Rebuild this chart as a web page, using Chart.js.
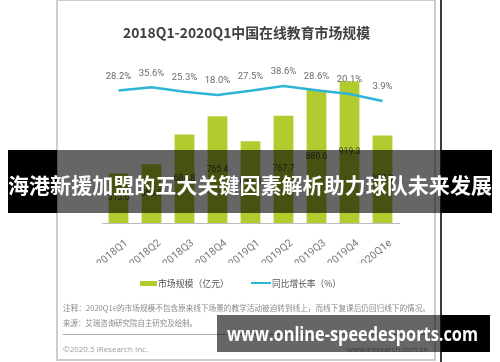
<!DOCTYPE html>
<html>
<head>
<meta charset="utf-8">
<script src="https://cdn.jsdelivr.net/npm/chart.js@4.4.1/dist/chart.umd.min.js"></script>
<style>
  html, body { margin:0; padding:0; background:#fff; }
  body { width:500px; height:362px; position:relative; overflow:hidden; font-family:"Noto Sans CJK SC","Noto Sans",sans-serif; }
  .abs { position:absolute; white-space:nowrap; }
  #card { position:absolute; left:56px; top:-1px; width:376px; height:358px; border:2px solid #cdcdcd; background:#fff; }
  #vline { position:absolute; left:440px; top:0; width:2px; height:362px; background:#3a3a3a; }
  #chart { position:absolute; left:0; top:0; }
  .fit { display:inline-block; transform-origin:0 50%; }
</style>
</head>
<body>
<div id="card"></div>
<div id="vline"></div>
<canvas id="chart" width="500" height="362"></canvas>

<div class="abs" id="title" style="left:123px; top:23px; font-size:14px; font-weight:bold; color:#404040; line-height:18px;"><span class="fit" data-w="247">2018Q1-2020Q1中国在线教育市场规模</span></div>

<div class="abs" style="left:140px; top:281px; width:17px; height:5px; background:#b4cb2f;"></div>
<div class="abs" style="left:158px; top:277px; font-size:9.5px; color:#555; line-height:13px;"><span class="fit" data-w="71">市场规模（亿元）</span></div>
<div class="abs" style="left:251px; top:282px; width:20px; height:2px; background:#2db5d8;"></div>
<div class="abs" style="left:272px; top:277px; font-size:9.5px; color:#555; line-height:13px;"><span class="fit" data-w="69">同比增长率（%）</span></div>

<div class="abs" style="left:63px; top:302px; font-size:7.5px; color:#8a8a8a; line-height:11px;"><span class="fit" data-w="367">注释：2020Q1e的市场规模不包含原来线下场景的教学活动被迫转到线上，而线下复课后仍回归线下的情况。</span></div>
<div class="abs" style="left:63px; top:317px; font-size:7.5px; color:#8a8a8a; line-height:11px;"><span class="fit" data-w="134">来源：艾瑞咨询研究院自主研究及绘制。</span></div>
<div class="abs" style="left:63px; top:334px; width:367px; height:1px; background:#a8a8a8;"></div>
<div class="abs" style="left:63px; top:343px; font-size:8px; color:#999; line-height:11px; font-family:'Open Sans',sans-serif;"><span class="fit" data-w="85">©2020.5 iResearch Inc.</span></div>
<div class="abs" style="left:347px; top:343px; font-size:8px; color:#999; line-height:11px; font-family:'Open Sans',sans-serif;"><span class="fit" data-w="81">www.iresearch.com.cn</span></div>

<!-- overlay banner -->
<div class="abs" style="left:8px; top:150px; width:49px; height:63px; background:#000;"></div>
<div class="abs" style="left:57px; top:150px; width:384px; height:63px; background:rgba(0,0,0,0.6);"></div>
<div class="abs" style="left:441px; top:150px; width:51px; height:63px; background:#000;"></div>
<div class="abs" style="left:8px; top:171px; font-size:21px; font-weight:bold; color:#fff; line-height:26px;"><span class="fit" data-w="484">海港新援加盟的五大关键因素解析助力球队未来发展</span></div>

<!-- watermark -->
<div class="abs" style="left:217px; top:315px; width:224px; height:37px; background:rgba(0,0,0,0.6);"></div>
<div class="abs" style="left:441px; top:315px; width:49px; height:37px; background:#000;"></div>
<div class="abs" style="left:227px; top:322px; font-size:20px; font-weight:bold; color:#fff; line-height:24px; font-family:'Open Sans',sans-serif;"><span class="fit" data-w="251">www.online-speedesports.com</span></div>

<script>
const quarters = ['2018Q1','2018Q2','2018Q3','2018Q4','2019Q1','2019Q2','2019Q3','2019Q4','2020Q1e'];
const marketSize = [513.6, 553.9, 684.8, 765.4, 654.8, 767.7, 880.6, 919.3, 680.3];
const growthRate = [28.2, 35.6, 25.3, 18.0, 27.5, 38.6, 28.6, 20.1, 3.9];

const labelPlugin = {
  id: 'labels',
  afterDatasetsDraw(chart) {
    const ctx = chart.ctx;
    const bottom = chart.chartArea.bottom;
    ctx.save();
    ctx.textAlign = 'center';
    ctx.textBaseline = 'middle';
    ctx.font = '8.5px Roboto, sans-serif';
    ctx.fillStyle = '#404040';
    chart.getDatasetMeta(1).data.forEach((el, i) => {
      ctx.fillText(marketSize[i].toFixed(1), el.x, (el.y + bottom) / 2);
    });
    ctx.font = '9.5px Roboto, sans-serif';
    ctx.fillStyle = '#6b6b6b';
    chart.getDatasetMeta(0).data.forEach((el, i) => {
      ctx.fillText(growthRate[i].toFixed(1) + '%', el.x, el.y - 14);
    });
    ctx.restore();
  }
};

new Chart(document.getElementById('chart'), {
  type: 'bar',
  data: {
    labels: quarters,
    datasets: [
      {
        type: 'line',
        label: '同比增长率（%）',
        data: growthRate,
        yAxisID: 'y2',
        borderColor: '#2db5d8',
        borderWidth: 2.5,
        pointRadius: 0,
        tension: 0,
        order: 0
      },
      {
        type: 'bar',
        label: '市场规模（亿元）',
        data: marketSize,
        yAxisID: 'y',
        backgroundColor: '#b4cb2f',
        barPercentage: 0.6,
        categoryPercentage: 1.0,
        order: 1
      }
    ]
  },
  options: {
    responsive: false,
    animation: false,
    devicePixelRatio: 1,
    layout: { padding: { left: 102, right: 101, top: 63, bottom: 99 } },
    plugins: { legend: { display: false }, tooltip: { enabled: false } },
    scales: {
      x: {
        grid: { display: false },
        border: { display: true, color: '#bdbdbd', width: 1 },
        ticks: {
          autoSkip: false,
          minRotation: 40, maxRotation: 40,
          color: '#7a7a7a',
          font: { size: 10.5, family: 'Roboto, sans-serif' },
          padding: 6,
          labelOffset: 8
        },
        afterFit(axis) { axis.height = 40; }
      },
      y: { display: false, min: 295, max: 1000 },
      y2: { display: false, min: -279, max: 92 }
    }
  },
  plugins: [labelPlugin]
});

function fitAll() {
  document.querySelectorAll('.fit').forEach(el => {
    el.style.transform = 'none';
    const w = el.getBoundingClientRect().width;
    const target = parseFloat(el.dataset.w);
    if (w > 0) el.style.transform = 'scaleX(' + (target / w) + ')';
  });
}
fitAll();
if (document.fonts && document.fonts.ready) document.fonts.ready.then(fitAll);
</script>
</body>
</html>
